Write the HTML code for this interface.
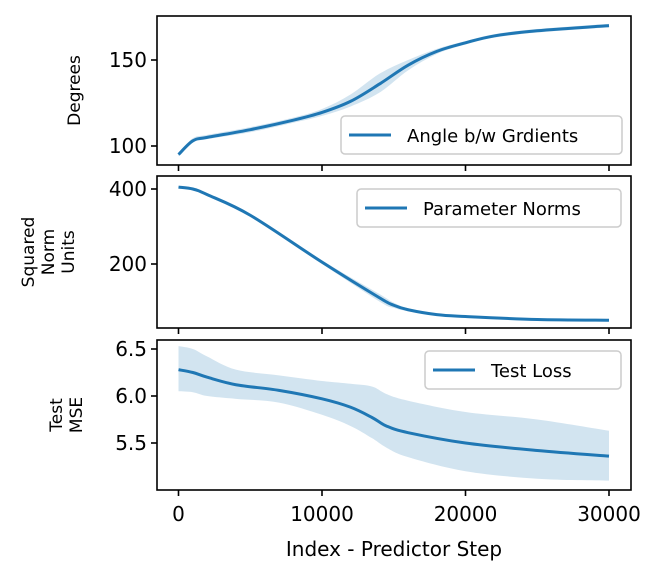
<!DOCTYPE html>
<html><head><meta charset="utf-8"><style>
body{margin:0;background:#fff;}
svg text{font-family:"DejaVu Sans","Liberation Sans",sans-serif;fill:#000;}
</style></head><body>
<svg id="chart" width="665" height="579" xmlns="http://www.w3.org/2000/svg"></svg>
<script>
const xs1=[0,1000,2000,5000,8000,10000,12000,14000,16000,18000,20000,22000,25000,30000];
const angle=[95,103,105,109.5,115,119.5,126,136,147,155,160,164,167,170];
const angleHi=[96,104.5,106.5,111,116.5,121.5,130,142,150,156.5,161,165,168,171];
const angleLo=[94,102,104,108,113.5,117.5,123,131,144,153.5,159,163,166,169];
const xs2=[0,1000,2000,5000,10000,14000,15000,16000,18000,20000,25000,30000];
const norms=[405,400,385,330,205,110,90,78,65,60,52,50];
const normsHi=[407,402,388,334,210,120,97,82,67,61,53,51];
const normsLo=[403,398,382,326,200,100,83,74,63,59,51,49];
const xs3=[0,1000,2000,4000,7000,10000,12000,13500,14500,16000,20000,25000,30000];
const loss=[6.28,6.25,6.2,6.12,6.06,5.97,5.88,5.77,5.68,5.61,5.5,5.42,5.36];
const lossHi=[6.53,6.5,6.42,6.28,6.22,6.16,6.13,6.1,6.02,5.95,5.83,5.75,5.63];
const lossLo=[6.05,6.04,6.0,5.97,5.93,5.8,5.68,5.55,5.45,5.35,5.2,5.12,5.1];
const xTicks=[0,10000,20000,30000];

const svg=document.getElementById('chart');
const NS='http://www.w3.org/2000/svg';
function mk(t,a,p){const e=document.createElementNS(NS,t);for(const k in a)e.setAttribute(k,a[k]);(p||svg).appendChild(e);return e;}
const X=v=>178.5+v*(609-178.5)/30000;
const L=157,R=631;
function smooth(pts,start){
  let d=start?'M'+pts[0][0]+','+pts[0][1]:'L'+pts[0][0]+','+pts[0][1];
  for(let i=0;i<pts.length-1;i++){
    const p0=pts[Math.max(i-1,0)],p1=pts[i],p2=pts[i+1],p3=pts[Math.min(i+2,pts.length-1)];
    const c1=[p1[0]+(p2[0]-p0[0])/6,p1[1]+(p2[1]-p0[1])/6];
    const c2=[p2[0]-(p3[0]-p1[0])/6,p2[1]-(p3[1]-p1[1])/6];
    d+='C'+c1[0]+','+c1[1]+' '+c2[0]+','+c2[1]+' '+p2[0]+','+p2[1];
  }
  return d;
}
function panel(name,top,bot,Y,xsA,m,hi,lo,yt,ylab,leg,legBox){
  const g=mk('g',{});
  
  
  const hp=xsA.map((v,i)=>[X(v),Y(hi[i])]);
  const lp=xsA.map((v,i)=>[X(v),Y(lo[i])]).reverse();
  const b=mk('path',{d:smooth(hp,true)+smooth(lp,false)+'Z',fill:'#1f77b4','fill-opacity':0.2,stroke:'none'},g);
  
  
  const ln=mk('path',{d:smooth(xsA.map((v,i)=>[X(v),Y(m[i])]),true),fill:'none',stroke:'#1f77b4','stroke-width':3,'stroke-linejoin':'round'},g);
  
  
  mk('rect',{x:L,y:top,width:R-L,height:bot-top,fill:'none',stroke:'#000','stroke-width':1.6},g);
  yt.forEach(t=>{const y=Y(t);mk('line',{x1:L-6,x2:L,y1:y,y2:y,stroke:'#000','stroke-width':1.6},g);
    const tx=mk('text',{x:L-10,y:y+7,'text-anchor':'end','font-size':20},g);tx.textContent=(typeof t==='number'&&t<10)?t.toFixed(1):t;
    });
  xTicks.forEach(t=>mk('line',{x1:X(t),x2:X(t),y1:bot,y2:bot+6,stroke:'#000','stroke-width':1.6},g));
  const lt=mk('text',{'font-size':17,'text-anchor':'middle',transform:'rotate(-90)'},g);
  
  ylab.lines.forEach((s,i)=>{const ts=mk('tspan',{x:-(top+bot)/2,y:ylab.x+i*20},lt);ts.textContent=s;});
  const lg=mk('g',{},g);
  
  mk('rect',{x:legBox[0],y:legBox[1],width:legBox[2],height:38,rx:4,fill:'#fff','fill-opacity':0.8,stroke:'#ccc','stroke-width':1.5},lg);
  mk('line',{x1:legBox[0]+8,x2:legBox[0]+50,y1:legBox[1]+19,y2:legBox[1]+19,stroke:'#1f77b4','stroke-width':3},lg);
  const t=mk('text',{x:legBox[0]+66,y:legBox[1]+26,'font-size':18},lg);t.textContent=leg;
}
panel('angle',16,165,v=>146-(v-100)*86/50,xs1,angle,angleHi,angleLo,[100,150],{x:80,lines:['Degrees']},'Angle b/w Grdients',[341,116,281]);
panel('norms',176,328,v=>264-(v-200)*75/200,xs2,norms,normsHi,normsLo,[200,400],{x:34,lines:['Squared','Norm','Units']},'Parameter Norms',[357,189,264]);
panel('loss',340,490,v=>396-(v-6)*94/1,xs3,loss,lossHi,lossLo,[5.5,6.0,6.5],{x:62,lines:['Test','MSE']},'Test Loss',[425,351,196]);
xTicks.forEach(t=>{const tx=mk('text',{x:X(t),y:521,'text-anchor':'middle','font-size':20});tx.textContent=t;
  });
const xl=mk('text',{x:394,y:556,'text-anchor':'middle','font-size':20});xl.textContent='Index - Predictor Step';


</script>
</body></html>
